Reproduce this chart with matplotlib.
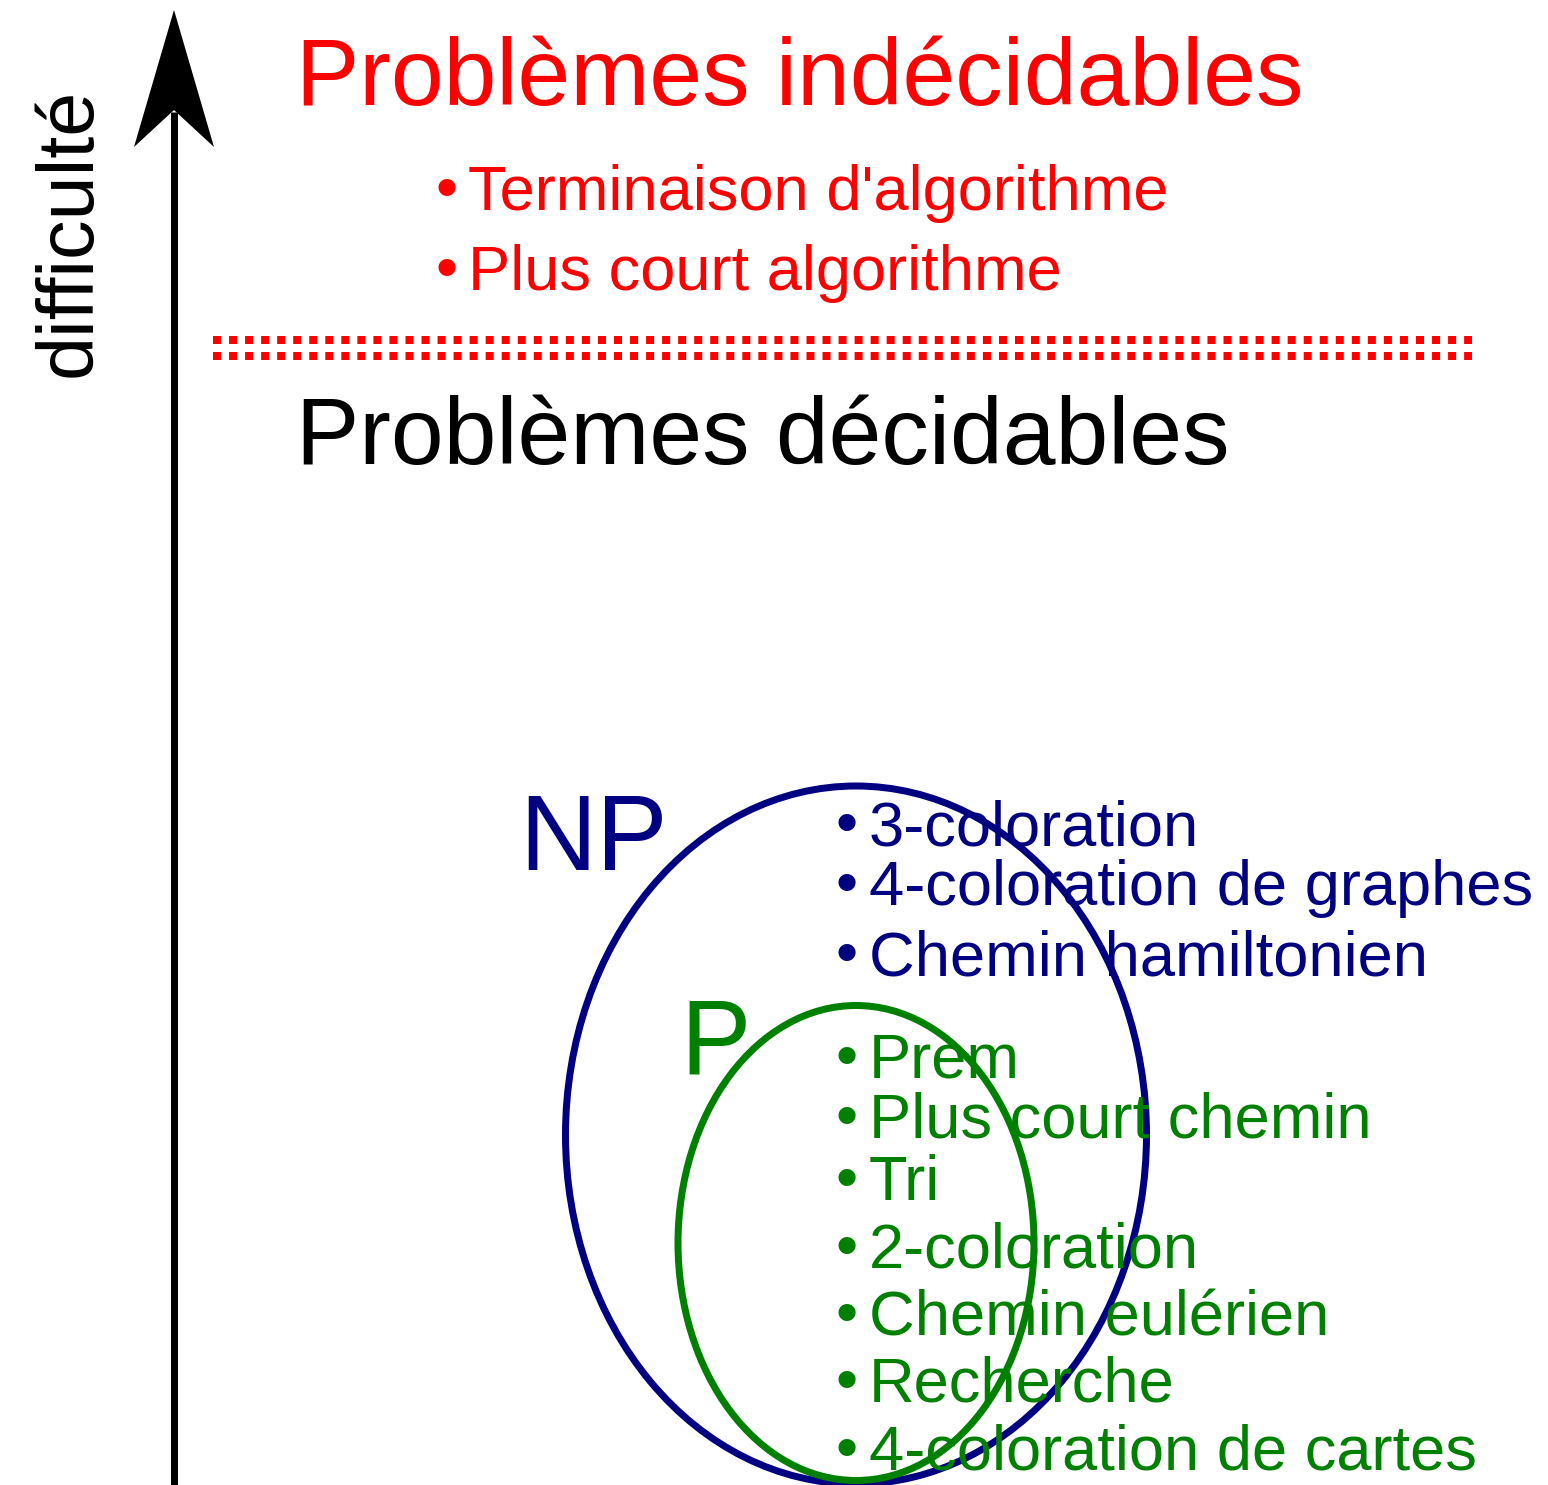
import matplotlib
matplotlib.use("Agg")
import matplotlib.pyplot as plt
from matplotlib.patches import Ellipse, Polygon

plt.rcParams['font.family'] = ['Liberation Sans', 'DejaVu Sans']

W, H = 1548, 1485
PT = 0.72  # points per pixel at dpi 100

title_undecidable = "Problèmes indécidables"
title_decidable = "Problèmes décidables"
axis_label = "difficulté"
undecidable_items = ["Terminaison d'algorithme", "Plus court algorithme"]
undecidable_baselines = [210, 290]
np_items = ["3-coloration", "4-coloration de graphes", "Chemin hamiltonien"]
np_baselines = [845, 905, 975]
p_items = ["Prem", "Plus court chemin", "Tri", "2-coloration",
           "Chemin eulérien", "Recherche", "4-coloration de cartes"]
p_baselines = [1078, 1138, 1200, 1268, 1335, 1402, 1470]

RED = "#ff0000"
NAVY = "#000080"
GREEN = "#008000"

fig = plt.figure(figsize=(W / 100, H / 100), dpi=100)
ax = fig.add_axes([0, 0, 1, 1])
ax.set_xlim(0, W)
ax.set_ylim(H, 0)
ax.axis('off')

# vertical arrow
ax.plot([174, 174], [H, 112], color='black', lw=7 * PT, solid_capstyle='butt')
ax.add_patch(Polygon([[174, 10], [214, 147], [174, 110], [134, 147]],
                     closed=True, color='black', lw=0))
ax.text(70, 232, axis_label, rotation=90, ha='center', va='center',
        fontsize=57, color='black')

# titles
ax.text(296, 105, title_undecidable, fontsize=68.3, color=RED, va='baseline', ha='left')
ax.text(296, 464, title_decidable, fontsize=68.3, color='black', va='baseline', ha='left')

def bullets(items, baselines, x_bullet, x_text, color, size=45.5):
    for t, b in zip(items, baselines):
        ax.text(x_bullet, b - 2, "•", fontsize=size, color=color,
                va='baseline', ha='center')
        ax.text(x_text, b, t, fontsize=size, color=color, va='baseline', ha='left')

bullets(undecidable_items, undecidable_baselines, 447, 468, RED)

# dotted separator (two rows)
for y in (340, 356):
    ax.plot([213, 1472], [y, y], color=RED, lw=8 * PT,
            linestyle=(0, (1, 1.005)), dash_capstyle='butt')

# ellipses
ax.add_patch(Ellipse((856, 1135), 581, 698, fill=False, ec=NAVY, lw=7 * PT))
ax.add_patch(Ellipse((856, 1243), 356, 475, fill=False, ec=GREEN, lw=7 * PT))

ax.text(519, 870, "NP", fontsize=77, color=NAVY, va='baseline', ha='left')
ax.text(680, 1073, "P", fontsize=76, color=GREEN, va='baseline', ha='left')

bullets(np_items, np_baselines, 847, 869, NAVY)
bullets(p_items, p_baselines, 847, 869, GREEN)

fig.savefig("out.png", dpi=100)
